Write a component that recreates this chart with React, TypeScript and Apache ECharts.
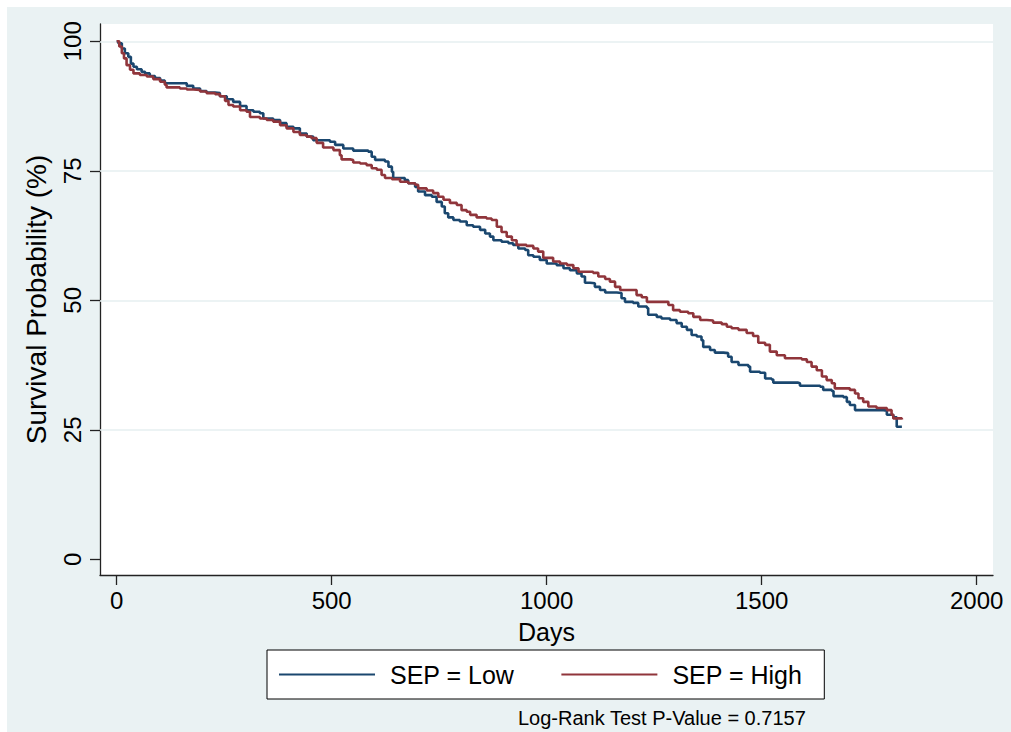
import React, { useEffect, useRef } from "react";
import * as echarts from "echarts";

// Kaplan-Meier estimates: [day, survival %]
const lowDays = [0, 4, 12, 19, 27, 33, 39, 47, 58, 66, 77, 89, 101, 112, 163, 178, 194, 209, 229, 240, 256, 271, 287, 302, 318, 333, 341, 364, 380, 395, 411, 426, 442, 457, 496, 508, 527, 550, 585, 593, 601, 624, 632, 640, 643, 670, 678, 694, 701, 717, 733, 744, 756, 763, 771, 783, 798, 814, 829, 845, 857, 868, 876, 895, 911, 922, 934, 950, 957, 969, 984, 1000, 1023, 1039, 1054, 1070, 1081, 1089, 1101, 1112, 1124, 1136, 1163, 1174, 1182, 1201, 1213, 1233, 1236, 1256, 1267, 1287, 1302, 1314, 1326, 1337, 1349, 1360, 1364, 1380, 1391, 1411, 1422, 1430, 1446, 1469, 1473, 1496, 1508, 1523, 1527, 1585, 1589, 1636, 1643, 1663, 1667, 1690, 1698, 1705, 1717, 1783, 1791, 1806, 1814, 1826];
const lowSurv = [100, 99.6, 98.6, 97.7, 97.0, 95.7, 95.1, 94.6, 94.1, 93.8, 93.3, 92.9, 92.4, 91.9, 91.4, 90.9, 90.4, 90.1, 90.0, 89.4, 88.8, 88.3, 87.5, 86.7, 86.4, 86.1, 85.1, 84.8, 84.2, 83.5, 83.2, 82.2, 81.6, 80.9, 80.6, 80.0, 79.3, 78.9, 78.7, 77.7, 77.1, 76.8, 75.8, 74.8, 73.6, 73.2, 72.6, 71.9, 71.0, 70.3, 70.0, 69.0, 68.1, 66.8, 66.0, 65.5, 65.2, 64.5, 64.2, 63.6, 62.9, 62.3, 61.6, 61.3, 61.0, 60.7, 60.0, 59.7, 58.7, 58.4, 57.8, 57.1, 56.8, 56.2, 55.8, 55.2, 54.6, 53.4, 53.3, 52.6, 52.0, 51.5, 51.4, 50.4, 49.7, 49.5, 48.8, 48.5, 47.2, 46.8, 46.5, 46.2, 45.6, 44.9, 44.3, 43.3, 43.0, 42.3, 41.0, 40.4, 39.9, 39.8, 39.1, 38.1, 37.5, 37.2, 36.2, 36.0, 34.9, 34.7, 34.1, 34.0, 33.5, 33.3, 32.7, 32.5, 31.5, 31.3, 30.4, 29.8, 28.8, 28.7, 27.9, 27.4, 25.6, 25.5];

const highDays = [0, 6, 12, 17, 23, 31, 39, 54, 70, 85, 101, 112, 116, 147, 163, 178, 194, 209, 229, 240, 252, 260, 271, 287, 302, 310, 333, 349, 364, 380, 395, 411, 426, 442, 453, 465, 480, 504, 519, 523, 543, 550, 566, 581, 593, 605, 616, 624, 640, 659, 678, 694, 701, 721, 736, 748, 760, 775, 791, 802, 814, 822, 837, 860, 872, 884, 895, 907, 919, 930, 953, 969, 980, 992, 1015, 1031, 1047, 1062, 1074, 1108, 1120, 1136, 1147, 1159, 1171, 1209, 1221, 1233, 1283, 1294, 1310, 1329, 1341, 1357, 1372, 1387, 1407, 1419, 1430, 1446, 1465, 1480, 1492, 1508, 1519, 1535, 1554, 1593, 1605, 1616, 1628, 1640, 1651, 1663, 1670, 1705, 1717, 1725, 1736, 1748, 1767, 1791, 1802, 1806, 1826];
const highSurv = [100, 99.0, 97.7, 96.7, 95.4, 94.5, 93.8, 93.5, 93.2, 92.7, 92.2, 91.6, 91.1, 90.9, 90.7, 90.6, 90.3, 90.0, 89.8, 89.4, 88.5, 87.7, 87.4, 86.7, 86.4, 85.4, 85.1, 84.8, 84.5, 83.8, 83.2, 82.5, 81.9, 81.6, 81.3, 80.4, 79.5, 79.0, 78.0, 77.2, 77.1, 76.6, 76.4, 76.1, 75.5, 75.2, 74.2, 73.6, 73.4, 72.9, 72.6, 72.3, 71.6, 71.2, 70.7, 70.0, 69.4, 68.8, 68.4, 67.4, 67.1, 66.5, 66.0, 65.8, 65.5, 64.2, 63.2, 62.3, 61.6, 60.7, 60.5, 60.0, 59.4, 58.2, 57.5, 57.1, 56.8, 56.2, 55.5, 55.3, 54.6, 54.1, 53.6, 52.6, 52.0, 51.0, 50.6, 49.7, 49.1, 48.1, 47.8, 47.5, 46.8, 46.2, 46.1, 45.7, 45.4, 44.9, 44.6, 44.3, 43.7, 43.1, 41.8, 41.4, 40.1, 39.4, 38.8, 38.6, 38.1, 37.2, 36.5, 35.3, 34.6, 34.0, 33.0, 32.7, 32.0, 31.1, 30.4, 29.5, 29.2, 28.8, 27.9, 27.2, 27.0];

const seriesNames = ["SEP = Low", "SEP = High"];
const xTicks = [0, 500, 1000, 1500, 2000];
const yTicks = [0, 25, 50, 75, 100];
const yGrid = [25, 50, 75, 100];
const note = "Log-Rank Test P-Value = 0.7157";

const FONT = "Liberation Sans, Arial, Helvetica, sans-serif";

export default function App() {
  const ref = useRef<HTMLDivElement>(null);
  useEffect(() => {
    if (!ref.current) return;
    const chart = echarts.init(ref.current, null, { renderer: "svg" });
    const lowData = lowDays.map((d, i) => [d, lowSurv[i]]);
    const highData = highDays.map((d, i) => [d, highSurv[i]]);
    chart.setOption({
      animation: false,
      backgroundColor: "#eaf2f3",
      textStyle: { fontFamily: FONT, color: "#000" },
      title: {
        text: note,
        left: 511,
        top: 699,
        padding: 0,
        textStyle: { fontSize: 20, fontWeight: "normal", color: "#000", fontFamily: FONT, lineHeight: 24 },
      },
      legend: {
        data: seriesNames,
        left: 260,
        top: 643,
        orient: "horizontal",
        icon: "rect",
        itemWidth: 96,
        itemHeight: 2,
        itemGap: 47,
        padding: [10, 22, 10, 12],
        backgroundColor: "#fff",
        borderColor: "#000",
        borderWidth: 1,
        borderRadius: 0,
        textStyle: { fontSize: 25, color: "#000", fontFamily: FONT, lineHeight: 29, padding: [0, 0, 0, 10] },
      },
      grid: {
        left: 93,
        top: 17,
        width: 893,
        height: 551,
        show: true,
        backgroundColor: "#fff",
        borderWidth: 0,
        containLabel: false,
      },
      xAxis: {
        type: "value",
        min: -38.8,
        max: 2037.9,
        name: "Days",
        nameLocation: "middle",
        nameGap: 44,
        nameTextStyle: { fontSize: 25, color: "#000", fontFamily: FONT },
        axisLine: { show: true, onZero: false, lineStyle: { color: "#222", width: 1.3 } },
        axisTick: { show: true, inside: false, length: 10, customValues: xTicks, lineStyle: { color: "#222", width: 1.3 } },
        axisLabel: {
          show: true,
          customValues: xTicks,
          margin: 13,
          fontSize: 24,
          color: "#000",
          fontFamily: FONT,
          formatter: (v: number) => String(v),
        },
        splitLine: { show: false },
      },
      yAxis: {
        type: "value",
        min: -3.03,
        max: 103.34,
        name: "Survival Probability (%)",
        nameLocation: "middle",
        nameRotate: 90,
        nameGap: 50,
        nameTextStyle: { fontSize: 28, color: "#000", fontFamily: FONT },
        axisLine: { show: true, onZero: false, lineStyle: { color: "#222", width: 1.3 } },
        axisTick: { show: true, inside: false, length: 10, customValues: yTicks, lineStyle: { color: "#222", width: 1.3 } },
        axisLabel: {
          show: true,
          customValues: yTicks,
          rotate: 90,
          margin: 16,
          fontSize: 24,
          color: "#000",
          fontFamily: FONT,
          formatter: (v: number) => String(v),
        },
        splitLine: { show: false },
      },
      series: [
        {
          name: seriesNames[0],
          type: "line",
          step: "end",
          data: lowData,
          showSymbol: false,
          symbol: "none",
          lineStyle: { color: "#1a476f", width: 2.6 },
          itemStyle: { color: "#1a476f" },
          z: 3,
          markLine: {
            silent: true,
            z: 1,
            symbol: ["none", "none"],
            label: { show: false },
            lineStyle: { color: "#e6eff0", width: 1.5, type: "solid" },
            data: yGrid.map((v) => ({ yAxis: v })),
          },
        },
        {
          name: seriesNames[1],
          type: "line",
          step: "end",
          data: highData,
          showSymbol: false,
          symbol: "none",
          lineStyle: { color: "#90353b", width: 2.6 },
          itemStyle: { color: "#90353b" },
          z: 4,
        },
      ],
    });
    return () => chart.dispose();
  }, []);
  return (
    <div style={{ position: "fixed", left: 0, top: 0, width: 1011, height: 732, background: "#fff" }}>
      <div ref={ref} style={{ position: "absolute", left: 7, top: 7, width: 1004, height: 725 }} />
    </div>
  );
}
